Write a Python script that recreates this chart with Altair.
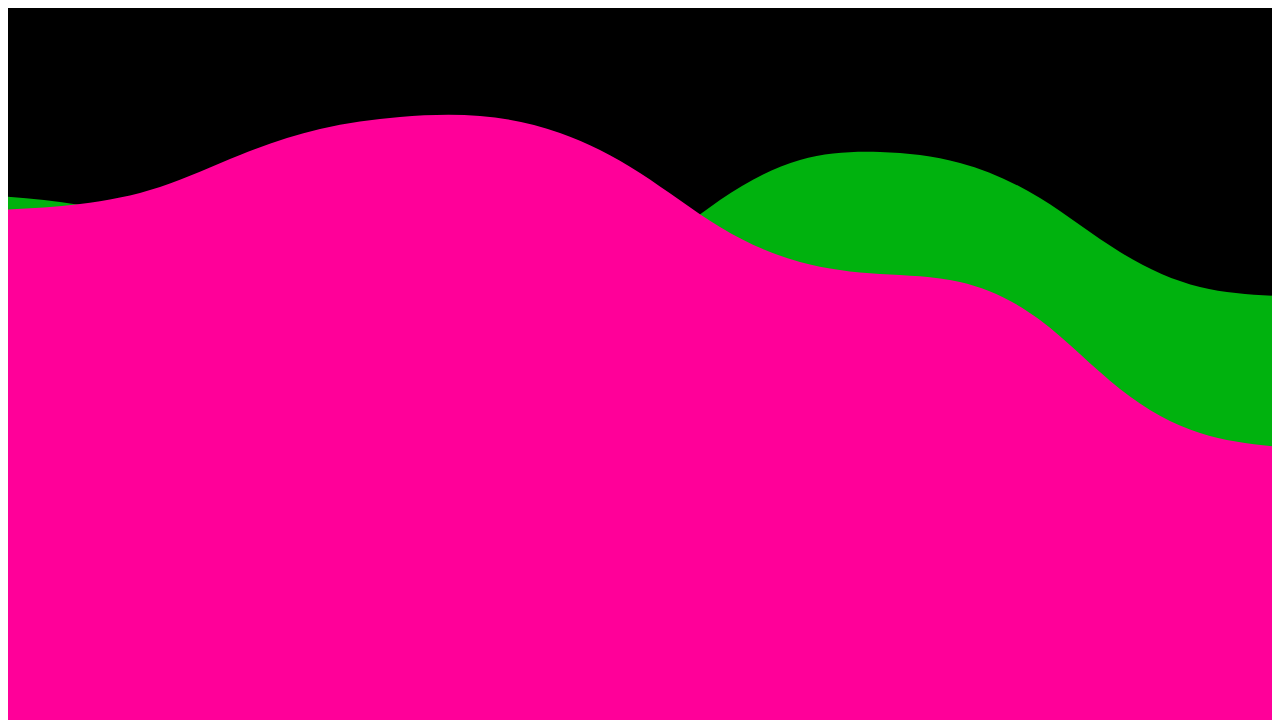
import altair as alt
import pandas as pd

# sample positions (index along the x axis)
steps = list(range(17))

# series values (0-72 scale)
pink_values = [51.0, 51.6, 53.3, 56.5, 59.1, 60.3, 60.4, 58.7, 54.7,
               49.3, 45.8, 44.6, 43.8, 40.0, 33.1, 28.7, 27.3]
green_values = [52.4, 51.5, 49.2, 45.0, 40.5, 37.5, 37.5, 40.5, 45.8,
                52.0, 56.0, 56.8, 55.7, 52.2, 46.8, 43.3, 42.4]

PINK = "#ff0099"
GREEN = "#00b20e"

df_pink = pd.DataFrame({"t": steps, "v": pink_values})
df_green = pd.DataFrame({"t": steps, "v": green_values})

# the page keeps an 8px margin, so the visible window of the scales is trimmed by that much
x_enc = alt.X("t:Q", axis=None, scale=alt.Scale(domain=[0.1, 15.9], nice=False, zero=False))
y_enc = alt.Y("v:Q", axis=None, scale=alt.Scale(domain=[0, 71.2], nice=False))

green = alt.Chart(df_green).mark_area(
    interpolate="natural", color=GREEN, opacity=1, clip=True
).encode(x=x_enc, y=y_enc)
pink = alt.Chart(df_pink).mark_area(
    interpolate="natural", color=PINK, opacity=1, clip=True
).encode(x=x_enc, y=y_enc)

chart = (
    alt.layer(green, pink)
    .properties(
        width=1264,
        height=712,
        padding=0,
        autosize=alt.AutoSizeParams(type="none"),
        background="#000000",
    )
    .configure_view(stroke=None, fill="#000000")
)

chart.save("out.html", embed_options={"renderer": "svg", "actions": False})
